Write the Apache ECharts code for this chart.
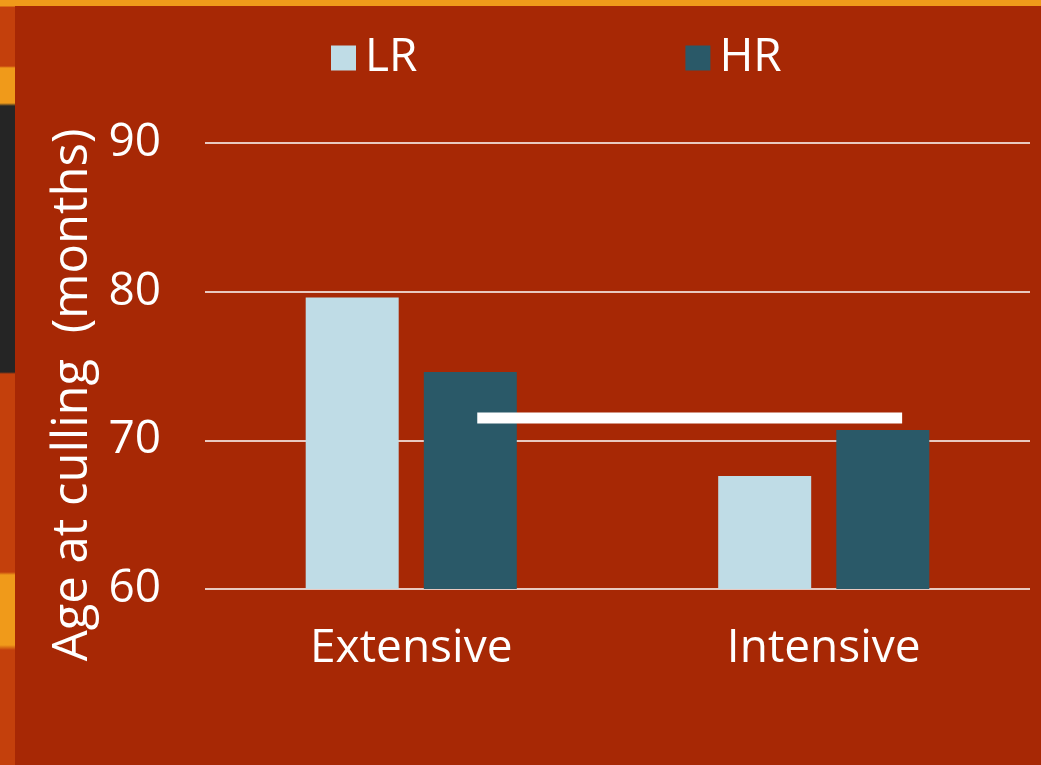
<!DOCTYPE html>
<html>
<head>
<meta charset="utf-8">
<script src="https://cdn.jsdelivr.net/npm/echarts@6/dist/echarts.min.js"></script>
<style>
  html, body { margin: 0; padding: 0; }
  body {
    width: 1041px; height: 765px; overflow: hidden; position: relative;
    background:
      linear-gradient(180deg, #f09a1a 0px, #f09a1a 6px, #c4400c 7px, #c4400c 66px,
        #f09a1a 68px, #f09a1a 103px, #252525 106px, #252525 372px, #c4400c 374px, #c4400c 572px,
        #f09a1a 575px, #f09a1a 645px, #c4400c 650px, #c4400c 765px);
  }
  #chart { position: absolute; left: 15px; top: 6px; width: 1026px; height: 759px; }
</style>
</head>
<body>
<div id="chart"></div>
<script>
  // 数据
  const categories = ["Extensive", "Intensive"];
  const lrValues = [79.6, 67.6];
  const hrValues = [74.6, 70.7];
  const yTicks = [60, 70, 80, 90];
  // 白色横线（注释线）：起止位置（按类别坐标 0..2）和数值
  const refLineX = [0.66, 1.69];
  const refLineValue = 71.5;

  const FONT = "'Open Sans', 'Noto Sans', sans-serif";

  let myChart = echarts.init(document.getElementById("chart"));
  myChart.setOption({
    backgroundColor: "#A72805",
    animation: false,
    textStyle: { fontFamily: FONT, color: "#fff" },
    legend: {
      left: 311,
      top: 24,
      itemWidth: 25,
      itemHeight: 25,
      itemGap: 268,
      icon: "rect",
      data: ["LR", "HR"],
      textStyle: { color: "#fff", fontSize: 46, fontFamily: FONT, padding: [0, 0, 0, 4] }
    },
    grid: { left: 190, right: 11, top: 137, bottom: 176 },
    xAxis: [
      {
        type: "category",
        data: categories,
        axisLine: { show: false },
        axisTick: { show: false },
        axisLabel: { color: "#fff", fontSize: 46, margin: 37, fontFamily: FONT }
      },
      {
        type: "value",
        min: 0,
        max: 2,
        show: false
      }
    ],
    yAxis: {
      type: "value",
      min: yTicks[0],
      max: yTicks[yTicks.length - 1],
      interval: 10,
      name: "Age at culling  (months)",
      nameLocation: "middle",
      nameGap: 102,
      nameTextStyle: { color: "#fff", fontSize: 49, fontFamily: FONT, padding: [0, 58, 0, 0] },
      axisLine: { show: false },
      axisTick: { show: false },
      axisLabel: { color: "#fff", fontSize: 46, margin: 44, fontFamily: FONT },
      splitLine: { lineStyle: { color: "#fff", width: 1.5 } }
    },
    series: [
      {
        name: "LR",
        type: "bar",
        barWidth: 93,
        barGap: "27%",
        itemStyle: { color: "#BFDCE6" },
        data: lrValues
      },
      {
        name: "HR",
        type: "bar",
        barWidth: 93,
        itemStyle: { color: "#2A5968" },
        data: hrValues
      },
      {
        name: "ref",
        type: "line",
        xAxisIndex: 1,
        symbol: "none",
        silent: true,
        lineStyle: { color: "#fff", width: 11, cap: "butt" },
        data: refLineX.map(x => [x, refLineValue]),
        z: 5
      }
    ]
  });
</script>
</body>
</html>
